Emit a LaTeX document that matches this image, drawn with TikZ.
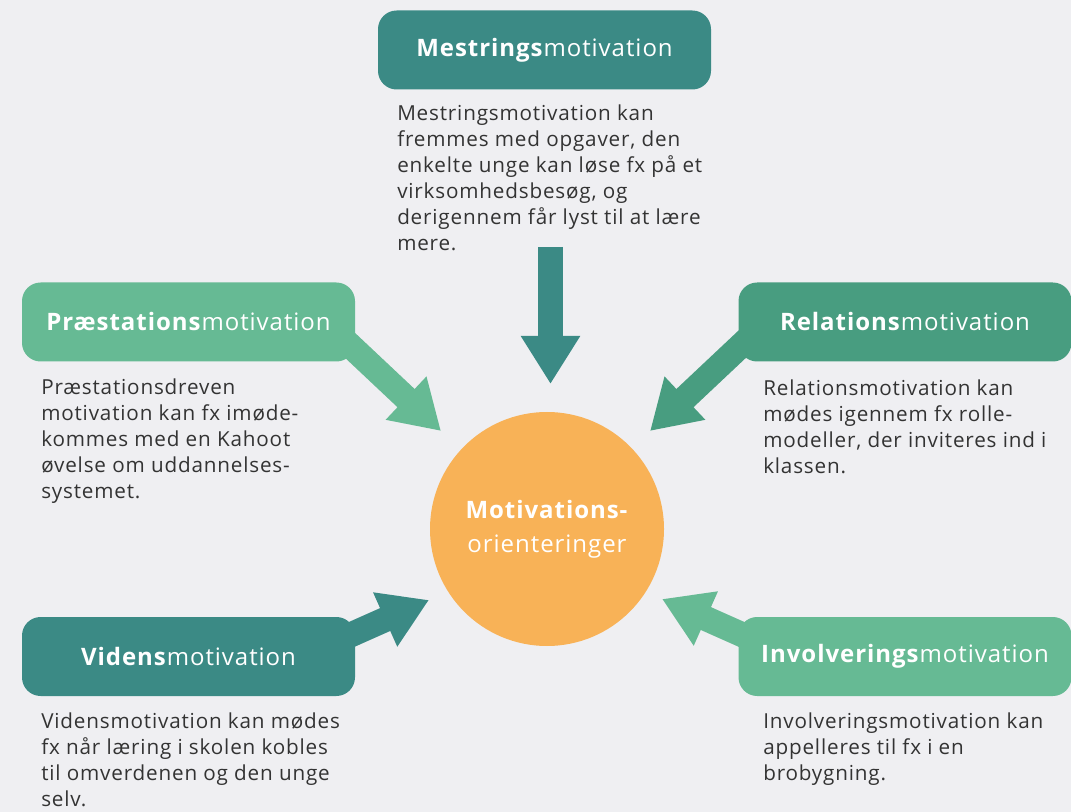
\documentclass[tikz,border=0pt]{standalone}
\usepackage{fontspec}
\setmainfont[LetterSpace=4]{Open Sans}
\usetikzlibrary{arrows.meta}
\definecolor{petrol}{HTML}{3B8A85}
\definecolor{lysgron}{HTML}{66BA94}
\definecolor{mellemgron}{HTML}{489D80}
\definecolor{appelsin}{HTML}{F8B257}
\definecolor{baggrund}{HTML}{EFEFF2}
\definecolor{tekstgraa}{HTML}{333333}

\begin{document}
\begin{tikzpicture}[x=0.75pt,y=0.75pt,yscale=-1,xscale=1,
  boks/.style={rounded corners=14pt, minimum width=249.75pt, minimum height=59.25pt, inner sep=0pt, text=white, font=\fontsize{18}{22}\selectfont},
  brod/.style={anchor=north west, align=left, inner sep=0pt, text=tekstgraa, font=\fontsize{15.5}{19.5}\selectfont},
  pil/.style={line width=18.75pt, -{Triangle[length=36pt,width=42pt]}}]
\useasboundingbox (0,0) rectangle (1071,812);
\fill [baggrund] (0,0) rectangle (1071,812);
%arrows first, so the boxes cover their tails
\coordinate (mstart) at (550.5,247);
\coordinate (mspids) at (550.5,384);
\coordinate (pstart) at (339,335);
\coordinate (pspids) at (441,431);
\coordinate (rstart) at (752,335);
\coordinate (rspids) at (650,431);
\coordinate (vstart) at (310,653);
\coordinate (vspids) at (429,600);
\coordinate (istart) at (781,652);
\coordinate (ispids) at (662,599);
\draw [pil, petrol] (mstart) -- (mspids);
\draw [pil, lysgron] (pstart) -- (pspids);
\draw [pil, mellemgron] (rstart) -- (rspids);
\draw [pil, petrol] (vstart) -- (vspids);
\draw [pil, lysgron] (istart) -- (ispids);
\node [circle, fill=appelsin, minimum size=175.5pt, inner sep=0pt, align=center, text=white, font=\fontsize{18}{25.5}\selectfont] (midte) at (547,529) {\textbf{Motivations-}\\orienteringer};
\node [boks, fill=petrol] (mestring) at (544.5,50) {\textbf{Mestrings}motivation};
\node [boks, fill=lysgron] (praestation) at (188.5,322) {\textbf{Præstations}motivation};
\node [boks, fill=mellemgron] (relation) at (905,322) {\textbf{Relations}motivation};
\node [boks, fill=petrol] (viden) at (188.5,656.5) {\textbf{Videns}motivation};
\node [boks, fill=lysgron] (involvering) at (905,656.5) {\textbf{Involverings}motivation};
\node [brod] (mtekst) at (397,105) {Mestringsmotivation kan\\fremmes med opgaver, den\\enkelte unge kan løse fx på et\\virksomhedsbesøg, og\\derigennem får lyst til at lære\\mere.};
\node [brod] (ptekst) at (41,379) {Præstationsdreven\\motivation kan fx imøde-\\kommes med en Kahoot\\øvelse om uddannelses-\\systemet.};
\node [brod] (rtekst) at (763,380) {Relationsmotivation kan\\mødes igennem fx rolle-\\modeller, der inviteres ind i\\klassen.};
\node [brod] (vtekst) at (41,713) {Vidensmotivation kan mødes\\fx når læring i skolen kobles\\til omverdenen og den unge\\selv.};
\node [brod] (itekst) at (763,713) {Involveringsmotivation kan\\appelleres til fx i en\\brobygning.};
\end{tikzpicture}
\end{document}
